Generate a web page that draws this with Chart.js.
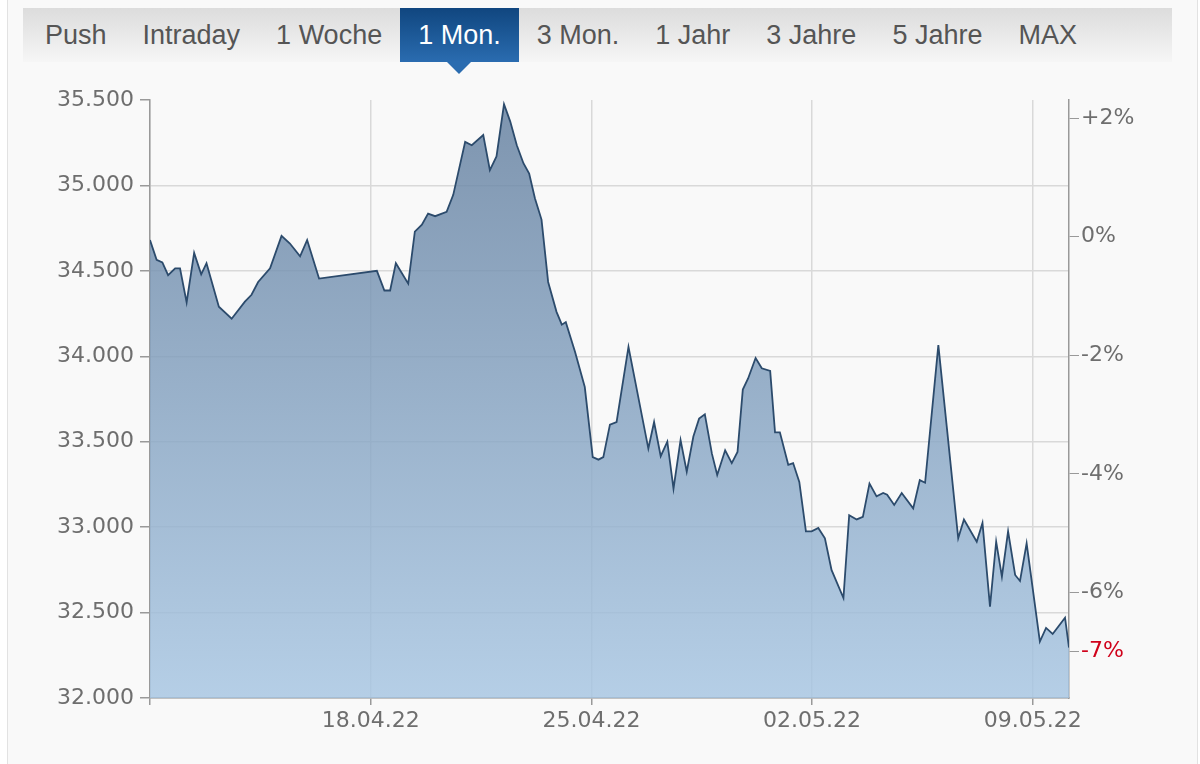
<!DOCTYPE html>
<html lang="de">
<head>
<meta charset="UTF-8" />
<title>Kursverlauf 1 Mon.</title>
<script src="https://cdn.jsdelivr.net/npm/chart.js"></script>
<style>
  body { margin: 0; background: #fff; }
  #rahmen { position: absolute; left: 7px; top: 0; width: 1189px; height: 764px; background: #f9f9f9; border-left: 1px solid #e2e2e2; border-right: 1px solid #e2e2e2; }
  #tabs { position: absolute; left: 23px; top: 8px; width: 1149px; height: 54px; background: linear-gradient(#dcdcdc, #f6f6f6); display: flex; padding-left: 4px; box-sizing: border-box; font-family: "Liberation Sans", Arial, sans-serif; font-size: 27px; color: #555; z-index: 2; }
  .tab { padding: 0 18px; line-height: 54px; position: relative; white-space: nowrap; }
  .tab.aktiv { background: linear-gradient(#10467f, #2a6cb0); color: #fff; }
  .tab.aktiv:after { content: ""; position: absolute; left: 50%; margin-left: -12px; bottom: -12px; border-left: 12px solid transparent; border-right: 12px solid transparent; border-top: 12px solid #2a6cb0; }
  #box { position: absolute; left: 0; top: 0; width: 1200px; height: 764px; z-index: 1; }
</style>
</head>
<body>
<div id="rahmen"></div>
<div id="tabs">
  <div class="tab">Push</div>
  <div class="tab">Intraday</div>
  <div class="tab">1 Woche</div>
  <div class="tab aktiv">1 Mon.</div>
  <div class="tab">3 Mon.</div>
  <div class="tab">1 Jahr</div>
  <div class="tab">3 Jahre</div>
  <div class="tab">5 Jahre</div>
  <div class="tab">MAX</div>
</div>
<div id="box"><canvas id="chart"></canvas></div>
<script>
// Zeit in Handelstagen ab 11.04.22, Kurs in Punkten
const zeit = [0, 0.15, 0.28, 0.41, 0.57, 0.68, 0.83, 1.00, 1.16, 1.28,
  1.56, 1.85, 2.15, 2.30, 2.45, 2.72, 2.98, 3.17, 3.40, 3.56,
  3.83, 5.14, 5.31, 5.44, 5.57, 5.85, 6.00, 6.16, 6.30, 6.46,
  6.72, 6.87, 7.14, 7.29, 7.55, 7.70, 7.85, 8.02, 8.16, 8.31,
  8.46, 8.59, 8.72, 8.87, 9.02, 9.21, 9.33, 9.42, 9.63, 9.85,
  10.03, 10.16, 10.27, 10.42, 10.57, 10.84, 11.29, 11.42, 11.57, 11.72,
  11.86, 12.02, 12.16, 12.31, 12.44, 12.57, 12.73, 12.85, 13.03, 13.18,
  13.31, 13.43, 13.55, 13.72, 13.86, 14.05, 14.16, 14.27, 14.46, 14.57,
  14.71, 14.86, 14.99, 15.14, 15.29, 15.44, 15.71, 15.84, 16.01, 16.15,
  16.30, 16.46, 16.61, 16.70, 16.86, 17.03, 17.29, 17.44, 17.56, 17.86,
  18.05, 18.31, 18.44, 18.73, 18.86, 19.03, 19.17, 19.30, 19.44, 19.60,
  19.71, 19.86, 20.16, 20.30, 20.45, 20.73, 20.82]

const kurs = [34680, 34565, 34550, 34475, 34515, 34515, 34315, 34605, 34480, 34545,
  34290, 34220, 34320, 34360, 34435, 34515, 34705, 34660, 34585, 34680,
  34455, 34500, 34385, 34385, 34545, 34425, 34730, 34770, 34835, 34820,
  34845, 34945, 35255, 35235, 35295, 35090, 35170, 35475, 35375, 35235,
  35130, 35070, 34925, 34800, 34435, 34260, 34185, 34200, 34025, 33820,
  33410, 33395, 33410, 33600, 33615, 34055, 33460, 33615, 33415, 33500,
  33225, 33510, 33325, 33530, 33635, 33660, 33430, 33305, 33450, 33375,
  33440, 33805, 33870, 33990, 33930, 33915, 33555, 33555, 33365, 33375,
  33265, 32975, 32975, 32995, 32935, 32750, 32585, 33070, 33045, 33060,
  33255, 33180, 33200, 33190, 33130, 33200, 33110, 33275, 33260, 34065,
  33590, 32935, 33045, 32915, 33025, 32535, 32915, 32710, 32975, 32720,
  32685, 32905, 32330, 32410, 32375, 32470, 32295]

const datumTicks = [5, 10, 15, 20]
const datumLabels = ['18.04.22', '25.04.22', '02.05.22', '09.05.22']
const basisKurs = 34700
const prozentTicks = [2, 0, -2, -4, -6]
const aktuellProz = -7

const yMin = 32000, yMax = 35500

const punkte = zeit.map((t, i) => ({ x: t, y: kurs[i] }))

const fmt = (v) => Math.round(v).toString().replace(/\B(?=(\d{3})+(?!\d))/g, '.')
const schrift = { family: 'DejaVu Sans', size: 22 }

const ctx = document.getElementById('chart')
new Chart(ctx, {
  type: 'line',
  data: {
    datasets: [{
      data: punkte,
      borderColor: '#2c4b6c',
      borderWidth: 1.8,
      pointRadius: 0,
      tension: 0,
      fill: 'start',
      backgroundColor: (c) => {
        const a = c.chart.chartArea
        if (!a) return 'rgba(140,165,195,0.82)'
        const g = c.chart.ctx.createLinearGradient(0, a.top, 0, a.bottom)
        g.addColorStop(0, 'rgba(98,126,158,0.82)')
        g.addColorStop(1, 'rgba(166,197,226,0.82)')
        return g
      }
    }]
  },
  options: {
    responsive: true,
    maintainAspectRatio: false,
    animation: false,
    layout: { padding: { top: 100, left: 0, right: 0, bottom: 0 } },
    plugins: { legend: { display: false }, tooltip: { enabled: false } },
    scales: {
      x: {
        type: 'linear',
        min: 0,
        max: 20.82,
        afterBuildTicks: (s) => { s.ticks = [0].concat(datumTicks).map(v => ({ value: v })) },
        afterFit: (s) => { s.height = 66 },
        grid: { color: '#d9d9d9', lineWidth: 1.5, tickColor: '#999', tickLength: 7 },
        border: { color: '#999', width: 1.5 },
        ticks: {
          color: '#6e6e6e', font: schrift, padding: 3, maxRotation: 0,
          callback: (v) => v === 0 ? '' : datumLabels[datumTicks.indexOf(v)]
        }
      },
      y: {
        position: 'left',
        min: yMin,
        max: yMax,
        afterFit: (s) => { s.width = 150 },
        grid: {
          color: (c) => c.tick && c.tick.value === yMax ? 'rgba(0,0,0,0)' : '#d9d9d9',
          lineWidth: 1.5, tickColor: '#999', tickLength: 10
        },
        border: { color: '#999', width: 1.5 },
        ticks: { stepSize: 500, color: '#6e6e6e', font: schrift, padding: 6, callback: (v) => fmt(v) }
      },
      y2: {
        position: 'right',
        min: (yMin / basisKurs - 1) * 100,
        max: (yMax / basisKurs - 1) * 100,
        afterBuildTicks: (s) => { s.ticks = prozentTicks.concat([aktuellProz]).map(v => ({ value: v })) },
        afterFit: (s) => { s.width = 131 },
        grid: { drawOnChartArea: false, tickColor: '#999', tickLength: 10 },
        border: { color: '#999', width: 1.5 },
        ticks: {
          font: schrift, padding: 2,
          color: (c) => c.tick && c.tick.value === aktuellProz ? '#d0021b' : '#6e6e6e',
          callback: (v) => (v > 0 ? '+' : '') + v + '%'
        }
      }
    }
  }
})
</script>
</body>
</html>
